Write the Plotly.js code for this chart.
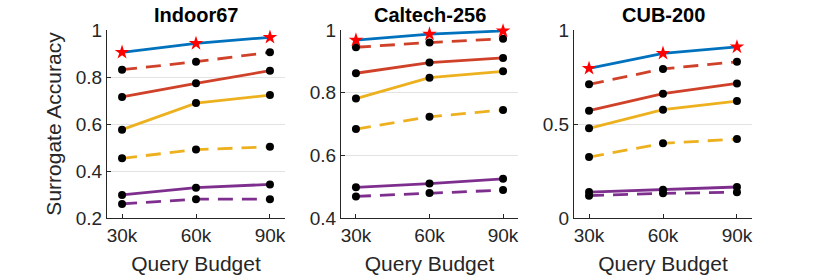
<!DOCTYPE html>
<html>
<head>
<meta charset="utf-8">
<script src="https://cdn.plot.ly/plotly-3.0.1.min.js"></script>
<style>
html,body{margin:0;padding:0;background:#fff;}
#chart{width:830px;height:277px;}
</style>
</head>
<body>
<div id="chart"></div>
<script>
// ---- data ----
const budgets = [30, 60, 90];
const budgetLabels = ['30k', '60k', '90k'];
const datasets = ['Indoor67', 'Caltech-256', 'CUB-200'];

// each array: one row per dataset (Indoor67, Caltech-256, CUB-200), values at 30k/60k/90k
const blueStar     = [[0.905, 0.943, 0.969], [0.968, 0.987, 0.997], [0.796, 0.876, 0.910]];
const redDashed    = [[0.831, 0.865, 0.905], [0.945, 0.960, 0.972], [0.711, 0.793, 0.831]];
const redSolid     = [[0.715, 0.773, 0.827], [0.862, 0.896, 0.911], [0.571, 0.661, 0.716]];
const yellowSolid  = [[0.576, 0.689, 0.723], [0.781, 0.848, 0.868], [0.477, 0.576, 0.622]];
const yellowDashed = [[0.454, 0.491, 0.503], [0.684, 0.723, 0.745], [0.324, 0.397, 0.420]];
const purpleSolid  = [[0.298, 0.329, 0.343], [0.498, 0.510, 0.525], [0.138, 0.150, 0.165]];
const purpleDashed = [[0.260, 0.280, 0.280], [0.469, 0.480, 0.489], [0.119, 0.131, 0.137]];

const yRanges = [[0.2, 1], [0.4, 1], [0, 1]];
const yTicks = [[0.2, 0.4, 0.6, 0.8, 1], [0.4, 0.6, 0.8, 1], [0, 0.5, 1]];
const yTickText = [['0.2', '0.4', '0.6', '0.8', '1'], ['0.4', '0.6', '0.8', '1'], ['0', '0.5', '1']];

// ---- styles ----
const C_BLUE = '#0072BD', C_RED = '#D0412A', C_YEL = '#EDB120', C_PUR = '#7E2F8E';
const DASH = '15px,9px';
const seriesDefs = [
  {data: purpleDashed, color: C_PUR, dash: DASH,    marker: 'dot'},
  {data: purpleSolid,  color: C_PUR, dash: 'solid', marker: 'dot'},
  {data: yellowDashed, color: C_YEL, dash: DASH,    marker: 'dot'},
  {data: yellowSolid,  color: C_YEL, dash: 'solid', marker: 'dot'},
  {data: redSolid,     color: C_RED, dash: 'solid', marker: 'dot'},
  {data: redDashed,    color: C_RED, dash: DASH,    marker: 'dot'},
  {data: blueStar,     color: C_BLUE, dash: 'solid', marker: 'star'}
];

const xDomains = [[107/830, 285/830], [341/830, 518/830], [574/830, 752/830]];
const yDomain = [1 - 218/277, 1 - 30/277];
const FONT = 'Liberation Sans, Arial, Helvetica, sans-serif';
const TXT = '#262626';

const traces = [];
const layout = {
  width: 830, height: 277,
  margin: {l: 0, r: 0, t: 0, b: 0},
  paper_bgcolor: '#fff', plot_bgcolor: '#fff',
  showlegend: false,
  font: {family: FONT, color: TXT, size: 19},
  annotations: []
};

datasets.forEach((name, i) => {
  const sfx = i === 0 ? '' : String(i + 1);
  seriesDefs.forEach(s => {
    const isStar = s.marker === 'star';
    traces.push({
      type: 'scatter', mode: 'lines+markers',
      x: budgets, y: s.data[i],
      xaxis: 'x' + sfx, yaxis: 'y' + sfx,
      cliponaxis: false,
      line: {color: s.color, width: 2.8, dash: s.dash},
      marker: isStar
        ? {symbol: 'star', size: 11, color: '#FF0000', line: {width: 0}}
        : {symbol: 'circle', size: 8, color: '#000000', line: {width: 0}},
      hoverinfo: 'skip'
    });
  });
  layout['xaxis' + sfx] = {
    domain: xDomains[i], anchor: 'y' + sfx,
    range: [23.9, 96.1],
    tickvals: budgets, ticktext: budgetLabels,
    ticks: 'inside', ticklen: 4, tickcolor: TXT,
    showline: true, linecolor: TXT, linewidth: 1,
    showgrid: false, zeroline: false,
    tickfont: {size: 19, color: TXT, family: FONT},
    title: {text: 'Query Budget', font: {size: 21, color: TXT, family: FONT}, standoff: 11},
    fixedrange: true
  };
  layout['yaxis' + sfx] = {
    domain: yDomain, anchor: 'x' + sfx,
    range: yRanges[i],
    tickvals: yTicks[i], ticktext: yTickText[i],
    ticks: 'inside', ticklen: 4, tickcolor: TXT,
    showline: true, linecolor: TXT, linewidth: 1,
    showgrid: true, gridcolor: '#E3E3E3', gridwidth: 1,
    zeroline: false,
    tickfont: {size: 19, color: TXT, family: FONT},
    fixedrange: true
  };
  if (i === 0) {
    layout['yaxis' + sfx].title = {text: 'Surrogate Accuracy', font: {size: 21, color: TXT, family: FONT}, standoff: 8};
  }
  layout.annotations.push({
    text: '<b>' + name + '</b>',
    xref: 'paper', yref: 'paper',
    x: (xDomains[i][0] + xDomains[i][1]) / 2, y: 1 - 15/277,
    xanchor: 'center', yanchor: 'middle', showarrow: false,
    font: {size: 20, color: '#000', family: FONT}
  });
});

Plotly.newPlot('chart', traces, layout, {staticPlot: true, displayModeBar: false});
</script>
</body>
</html>
